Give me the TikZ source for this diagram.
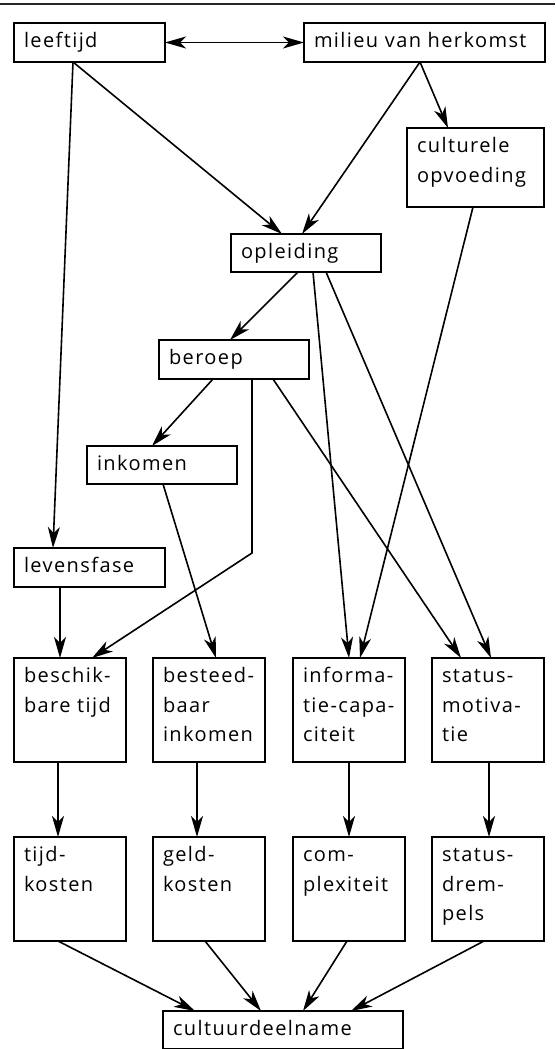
\documentclass[tikz,border=0pt]{standalone}
\usepackage{fontspec}
\setmainfont{Open Sans}[LetterSpace=7]
\usetikzlibrary{arrows.meta,calc}

% fixed-size cell: width, height, text (lines separated by \newline)
\newcommand\cellbox[3]{\vbox to #2pt{\hsize=#1pt\parindent=0pt
  \leftskip=10pt\rightskip=0pt plus 1fil\baselineskip=29.5pt
  \hyphenpenalty=10000\exhyphenpenalty=10000\tolerance=10000
  \noindent\vrule height 24.5pt depth 0pt width 0pt\relax #3\par\vss}}

\begin{document}
\begin{tikzpicture}[x=1pt,y=-1pt,
  font=\fontsize{20pt}{29.5pt}\selectfont,
  box/.style={draw, line width=1.8pt, inner sep=0pt, outer sep=0pt, anchor=north west},
  arr/.style={line width=1.6pt, -{Stealth[length=21pt,width=12pt,inset=6pt]}},
  dbl/.style={line width=1.6pt, {Stealth[length=21pt,width=12pt,inset=6pt]}-{Stealth[length=21pt,width=12pt,inset=6pt]}}]
\useasboundingbox (0,0) rectangle (555,1049);

% rule across the top
\draw[line width=1.6pt, black!85] (0,4) -- (555,4);

% upper part
\node[box] (lt) at (14,23)  {\cellbox{151}{39}{leeftijd}};
\node[box] (mh) at (304,23) {\cellbox{241}{39}{milieu~van~herkomst}};
\node[box] (co) at (407,128) {\cellbox{137}{79}{culturele\newline opvoeding}};
\node[box] (op) at (231,234) {\cellbox{150}{38}{opleiding}};
\node[box] (be) at (159,340) {\cellbox{150}{39}{beroep}};
\node[box] (ik) at (87,446)  {\cellbox{150}{38}{inkomen}};
\node[box] (lf) at (14,548)  {\cellbox{151}{39}{levensfase}};

% first row of four
\node[box] (bt) at (14,658)  {\cellbox{112}{104}{beschik-\newline bare~tijd}};
\node[box] (bi) at (153,658) {\cellbox{112}{104}{besteed-\newline baar\newline inkomen}};
\node[box] (ic) at (293,658) {\cellbox{112}{104}{informa-\newline tie-capa-\newline citeit}};
\node[box] (sm) at (432,658) {\cellbox{112}{104}{status-\newline motiva-\newline tie}};

% second row of four
\node[box] (tk) at (14,837)  {\cellbox{112}{104}{tijd-\newline kosten}};
\node[box] (gk) at (153,837) {\cellbox{112}{104}{geld-\newline kosten}};
\node[box] (cx) at (293,837) {\cellbox{112}{104}{com-\newline plexiteit}};
\node[box] (sd) at (432,837) {\cellbox{112}{104}{status-\newline drem-\newline pels}};

% outcome
\node[box] (cd) at (163,1011) {\cellbox{240}{38}{cultuurdeelname}};

% connectors
\draw[dbl] (lt.east) -- (mh.west);
\draw[arr] ($(lt.south west)+(59,0)$) -- ($(lf.north west)+(39,0)$);
\draw[arr] ($(lt.south west)+(59,0)$) -- ($(op.north west)+(51,0)$);
\draw[arr] ($(mh.south west)+(116,0)$) -- ($(op.north west)+(71,0)$);
\draw[arr] ($(mh.south west)+(116,0)$) -- ($(co.north west)+(41,0)$);
\draw[arr] ($(co.south west)+(66,0)$) -- ($(ic.north west)+(67,0)$);
\draw[arr] ($(op.south west)+(67,0)$) -- ($(be.north west)+(71,0)$);
\draw[arr] ($(op.south west)+(82,0)$) -- ($(ic.north west)+(56,0)$);
\draw[arr] ($(op.south west)+(95,0)$) -- ($(sm.north west)+(59,0)$);
\draw[arr] ($(be.south west)+(54,0)$) -- ($(ik.north west)+(65,0)$);
\coordinate (bend) at ($(be.south west)+(93,174)$);
\draw[arr] ($(be.south west)+(93,0)$) -- (bend) -- ($(bt.north west)+(78,0)$);
\draw[arr] ($(be.south west)+(114,0)$) -- ($(sm.north west)+(29,0)$);
\draw[arr] ($(ik.south west)+(76,0)$) -- ($(bi.north west)+(63,0)$);
\draw[arr] ($(lf.south west)+(46,0)$) -- ($(bt.north west)+(46,0)$);

\draw[arr] ($(bt.south west)+(44,0)$) -- ($(tk.north west)+(44,0)$);
\draw[arr] ($(bi.south west)+(44,0)$) -- ($(gk.north west)+(44,0)$);
\draw[arr] ($(ic.south west)+(56,0)$) -- ($(cx.north west)+(56,0)$);
\draw[arr] ($(sm.south west)+(57,0)$) -- ($(sd.north west)+(57,0)$);

\draw[arr] ($(tk.south west)+(44,0)$) -- ($(cd.north west)+(32,0)$);
\draw[arr] ($(gk.south west)+(52,0)$) -- ($(cd.north west)+(98,0)$);
\draw[arr] ($(cx.south west)+(54,0)$) -- ($(cd.north west)+(140,0)$);
\draw[arr] ($(sd.south west)+(52,0)$) -- ($(cd.north west)+(188,0)$);
\end{tikzpicture}
\end{document}
